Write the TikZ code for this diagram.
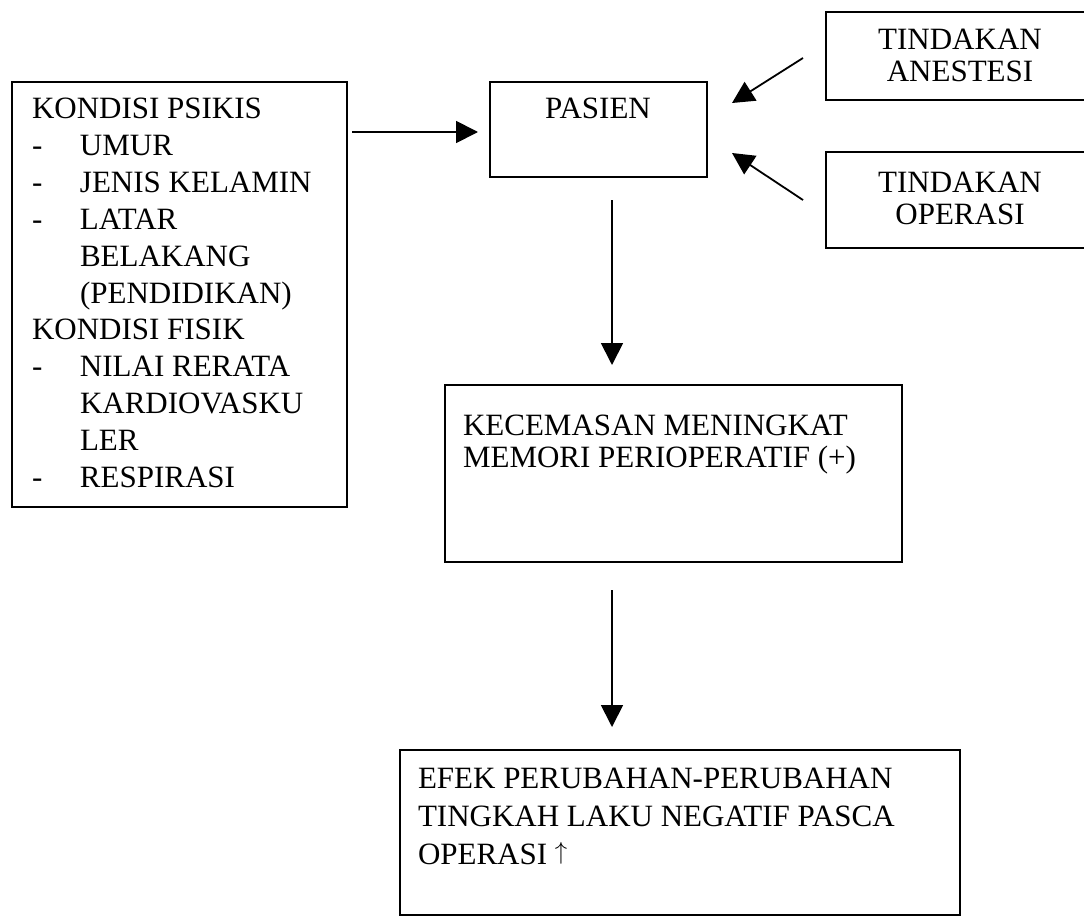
\documentclass[tikz,border=0pt]{standalone}
\usepackage{fontspec}
\usepackage{graphicx}
\setmainfont{Liberation Serif}
\usetikzlibrary{arrows.meta}
\begin{document}
\begin{tikzpicture}[x=1pt,y=-1pt,
  frame/.style={draw, line width=1.8pt, inner sep=0pt, outer sep=0pt, anchor=north west},
  words/.style={anchor=north west, align=left, inner sep=0pt, outer sep=0pt},
  centred/.style={anchor=north, align=center, inner sep=0pt, outer sep=0pt},
  flow/.style={line width=1.8pt, -{Triangle[length=22pt,width=22pt]}}]
\clip (0,0) rectangle (1084,918);
\fill[white] (0,0) rectangle (1084,918);

% boxes
\node[frame, minimum width=335pt, minimum height=425pt] (kondisi) at (12,82) {};
\node[frame, minimum width=217pt, minimum height=95pt] (pasien) at (490,82) {};
\node[frame, minimum width=300pt, minimum height=88pt] (anestesi) at (826,12) {};
\node[frame, minimum width=300pt, minimum height=96pt] (operasi) at (826,152) {};
\node[frame, minimum width=457pt, minimum height=177pt] (cemas) at (445,385) {};
\node[frame, minimum width=560pt, minimum height=165pt] (efek) at (400,750) {};

% texts
\newcommand{\dashitem}[1]{\makebox[48pt][l]{-}#1}
\newcommand{\tallup}{\raisebox{4.5pt}{\resizebox*{!}{22pt}{$\uparrow$}}}
\node[words, font=\fontsize{31}{36.9}\selectfont] (kondisitxt) at (32,98)
  {KONDISI PSIKIS\\
   \dashitem{UMUR}\\
   \dashitem{JENIS KELAMIN}\\
   \dashitem{LATAR}\\
   \hspace*{48pt}BELAKANG\\
   \hspace*{48pt}(PENDIDIKAN)\\
   KONDISI FISIK\\
   \dashitem{NILAI RERATA}\\
   \hspace*{48pt}KARDIOVASKU\\
   \hspace*{48pt}LER\\
   \dashitem{RESPIRASI}};
\node[centred, font=\fontsize{31}{36.9}\selectfont] (pasientxt) at (598,98) {PASIEN};
\node[centred, font=\fontsize{31}{32}\selectfont] (anestesitxt) at (960,29) {TINDAKAN\\ANESTESI};
\node[centred, font=\fontsize{31}{32}\selectfont] (operasitxt) at (960,172) {TINDAKAN\\OPERASI};
\node[words, font=\fontsize{31}{31.7}\selectfont] (cemastxt) at (463,415)
  {KECEMASAN MENINGKAT\\MEMORI PERIOPERATIF (+)};
\node[words, font=\fontsize{31}{38}\selectfont] (efektxt) at (418,768)
  {EFEK PERUBAHAN-PERUBAHAN\\TINGKAH LAKU NEGATIF PASCA\\OPERASI \tallup};

% connector ends
\coordinate (k1) at (352,132);
\coordinate (p1) at (478,132);
\coordinate (a0) at (803,58);
\coordinate (a1) at (732,103);
\coordinate (o0) at (803,200);
\coordinate (o1) at (732,153);
\coordinate (pd0) at (612,200);
\coordinate (pd1) at (612,365);
\coordinate (cd0) at (612,590);
\coordinate (cd1) at (612,727);

% arrows
\draw[flow] (k1) -- (p1);
\draw[flow] (a0) -- (a1);
\draw[flow] (o0) -- (o1);
\draw[flow] (pd0) -- (pd1);
\draw[flow] (cd0) -- (cd1);
\end{tikzpicture}
\end{document}
